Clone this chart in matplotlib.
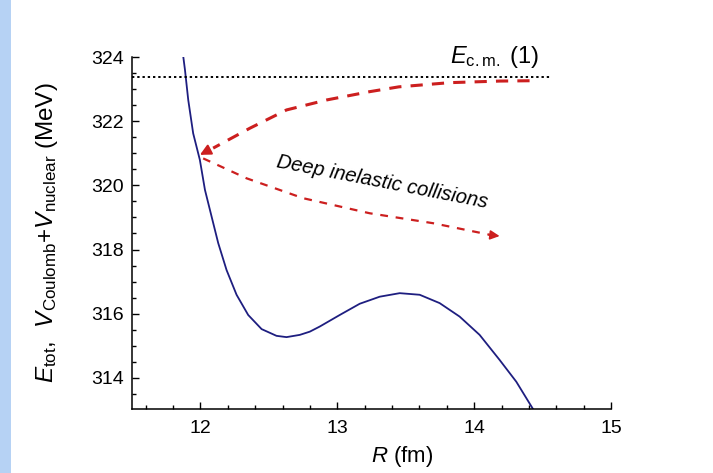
import matplotlib
matplotlib.use('Agg')
import matplotlib.pyplot as plt
from matplotlib.patches import Rectangle
from matplotlib.ticker import MultipleLocator

plt.rcParams['font.family'] = ['Liberation Sans', 'DejaVu Sans']
plt.rcParams['mathtext.fontset'] = 'custom'
plt.rcParams['mathtext.rm'] = 'Liberation Sans'
plt.rcParams['mathtext.it'] = 'Liberation Sans:italic'

CURVE_COLOR = '#1e1e80'
ARROW_COLOR = '#cc1f1f'

# potential V_Coulomb + V_nuclear
R_pot = [11.875, 11.887, 11.911, 11.947, 11.996, 12.033, 12.082, 12.13, 12.191, 12.264,
         12.349, 12.447, 12.556, 12.629, 12.726, 12.799, 12.872, 13.018, 13.164, 13.31,
         13.456, 13.602, 13.748, 13.894, 14.04, 14.186, 14.308, 14.43]
V_pot = [324.0, 323.6, 322.66, 321.62, 320.79, 319.86, 319.02, 318.2, 317.36, 316.59,
         315.96, 315.52, 315.31, 315.27, 315.34, 315.44, 315.6, 315.96, 316.31, 316.53,
         316.64, 316.59, 316.33, 315.91, 315.34, 314.56, 313.88, 313.03]

E_cm = 323.38
E_cm_R = [11.5, 14.57]

# capture path (right -> left, ends at the arrow tip)
R_in = [14.405, 14.186, 13.82, 13.45, 13.237, 12.921, 12.629, 12.361, 12.093, 11.996]
V_in = [323.26, 323.25, 323.2, 323.07, 322.92, 322.66, 322.35, 321.78, 321.16, 320.95]

# deep inelastic path (left -> right)
R_out = [12.02, 12.337, 12.75, 13.237, 13.7, 14.186]
V_out = [320.84, 320.22, 319.6, 319.13, 318.82, 318.42]

fig = plt.figure(figsize=(7.13, 4.73), dpi=100)
fig.patches.append(Rectangle((0, 0), 11 / 713, 1, transform=fig.transFigure,
                             facecolor='#b6d2f4', edgecolor='none', zorder=0))
ax = fig.add_axes((132 / 713, 1 - 409 / 473, 479 / 713, 352 / 473))

ax.plot(R_pot, V_pot, color=CURVE_COLOR, lw=1.3, solid_joinstyle='round')
ax.plot(E_cm_R, [E_cm, E_cm], color='black', lw=1.4, ls=(0, (1.2, 1.5)))

ax.plot(R_in[:-1], V_in[:-1], color=ARROW_COLOR, lw=2.2, ls=(0, (4, 3)))
ax.annotate('', xy=(R_in[-1], V_in[-1]), xytext=(R_in[-2] - 0.03, V_in[-2] - 0.06),
            arrowprops=dict(arrowstyle='-|>', color=ARROW_COLOR, lw=1.5,
                            mutation_scale=16, shrinkA=0, shrinkB=0))

ax.plot(R_out[:-1] + [R_out[-1] - 0.06], V_out[:-1] + [V_out[-1] + 0.03],
        color=ARROW_COLOR, lw=1.6, ls=(0, (3.5, 3.5)))
ax.annotate('', xy=(R_out[-1], V_out[-1]), xytext=(R_out[-1] - 0.08, V_out[-1] + 0.04),
            arrowprops=dict(arrowstyle='-|>', color=ARROW_COLOR, lw=1.2,
                            mutation_scale=14, shrinkA=0, shrinkB=0))

ax.text(13.33, 320.1, 'Deep inelastic collisions', fontsize=14.5, style='italic',
        rotation=-11, rotation_mode='anchor', ha='center', va='center')
ax.text(13.82, 323.8, r'$E_{\rm c.m.}$ (1)', fontsize=17, ha='left', va='baseline')

ax.set_xlim(11.5, 15)
ax.set_ylim(313.03, 324)
ax.xaxis.set_major_locator(MultipleLocator(1))
ax.xaxis.set_minor_locator(MultipleLocator(0.2))
ax.yaxis.set_major_locator(MultipleLocator(2))
ax.yaxis.set_minor_locator(MultipleLocator(0.5))
ax.tick_params(which='both', direction='in', labelsize=14, width=1.0)
ax.tick_params(which='major', length=5)
ax.tick_params(which='minor', length=3)
ax.tick_params(axis='x', pad=8)
ax.tick_params(axis='y', pad=6)
for s in ['top', 'right']:
    ax.spines[s].set_visible(False)
for s in ['left', 'bottom']:
    ax.spines[s].set_linewidth(1.1)

ax.set_xlabel(r'$R$ (fm)', fontsize=16)
ax.xaxis.set_label_coords(0.564, -0.1)
ax.set_ylabel(r'$E_{\rm tot}$,  $V_{\rm Coulomb}$+$V_{\rm nuclear}$ (MeV)', fontsize=17.5)
ax.yaxis.set_label_coords(-0.15, 0.5)

fig.savefig('out.png', dpi=100)
